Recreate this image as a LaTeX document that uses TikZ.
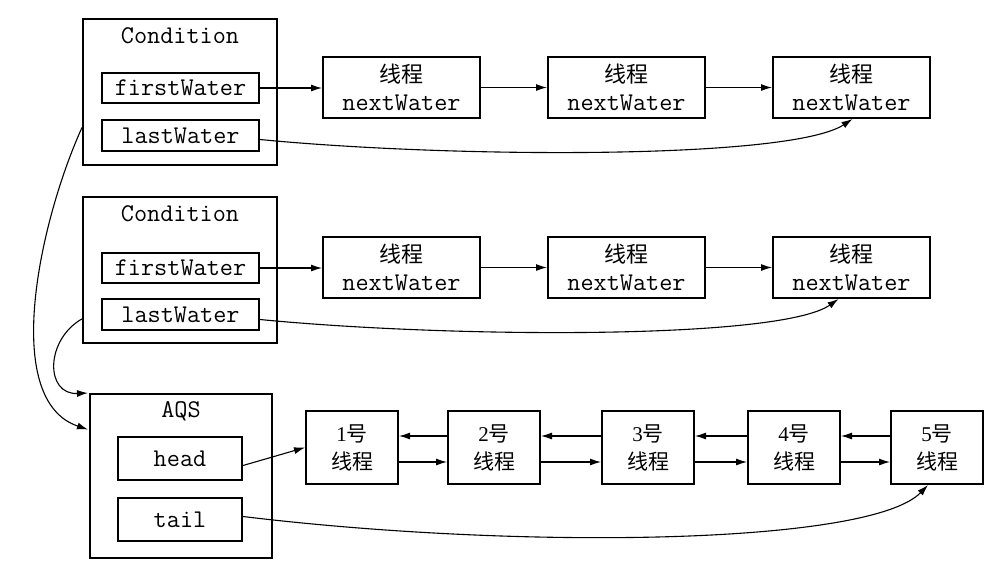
\documentclass[tikz,border=0pt]{standalone}
\usepackage{fontspec}
\setmainfont{Liberation Serif}
\newfontfamily\cjk{Noto Sans CJK SC}
\usetikzlibrary{arrows.meta,calc}
\tikzset{
 outerbox/.style={draw, line width=2pt, rectangle, inner sep=0pt},
 fieldbox/.style={draw, line width=2pt, rectangle, inner sep=0pt, font=\ttfamily\fontsize{25.5}{28}\selectfont},
 titletext/.style={inner sep=0pt, font=\ttfamily\fontsize{25.5}{28}\selectfont},
 wthread/.style={draw, line width=2pt, minimum width=157pt, minimum height=61pt, inner sep=0pt, align=center, font=\fontsize{22}{28}\selectfont},
 qthread/.style={draw, line width=2pt, minimum width=92pt, minimum height=73pt, inner sep=0pt, align=center, font=\fontsize{21}{28}\selectfont},
 conn/.style={line width=1.1pt, -{Latex[length=11pt,width=7pt]}},
}
\newcommand{\wt}{{\cjk 线程}\\{\ttfamily\fontsize{25.5}{28}\selectfont nextWater}}
\newcommand{\qt}[1]{{\rmfamily #1}{\cjk 号}\\{\cjk 线程}}
\begin{document}
\begin{tikzpicture}[x=1pt,y=-1pt]
\useasboundingbox (0,0) rectangle (1003,566);
% Condition 1
\node[outerbox, minimum width=194pt, minimum height=146pt] (c1) at (180,92) {};
\node[titletext] (c1t) at (180,36) {Condition};
\node[fieldbox, minimum width=157pt, minimum height=30pt] (fw1) at (180.5,88) {firstWater};
\node[fieldbox, minimum width=157pt, minimum height=31pt] (lw1) at (180.5,135.5) {lastWater};
\node[wthread] (a1) at (401.5,87.5) {\wt};
\node[wthread] (a2) at (626.5,87.5) {\wt};
\node[wthread] (a3) at (851.5,87.5) {\wt};
% Condition 2
\node[outerbox, minimum width=194pt, minimum height=146pt] (c2) at (180,270) {};
\node[titletext] (c2t) at (180,214) {Condition};
\node[fieldbox, minimum width=157pt, minimum height=30pt] (fw2) at (180.5,268) {firstWater};
\node[fieldbox, minimum width=157pt, minimum height=31pt] (lw2) at (180.5,314.5) {lastWater};
\node[wthread] (b1) at (401.5,267.5) {\wt};
\node[wthread] (b2) at (626.5,267.5) {\wt};
\node[wthread] (b3) at (851.5,267.5) {\wt};
% AQS
\node[outerbox, minimum width=182pt, minimum height=164pt] (aqs) at (181,476) {};
\node[titletext] (aqst) at (181,411) {AQS};
\node[fieldbox, minimum width=124pt, minimum height=43pt] (head) at (180,458.5) {head};
\node[fieldbox, minimum width=124pt, minimum height=43pt] (tail) at (180,519.5) {tail};
\node[qthread] (q1) at (352,447.5) {\qt{1}};
\node[qthread] (q2) at (494,447.5) {\qt{2}};
\node[qthread] (q3) at (648,447.5) {\qt{3}};
\node[qthread] (q4) at (794,447.5) {\qt{4}};
\node[qthread] (q5) at (937,447.5) {\qt{5}};
% top row arrows
\draw[conn] (fw1.east) -- (fw1.east -| a1.west);
\draw[conn] (a1.east) -- (a2.west);
\draw[conn] (a2.east) -- (a3.west);
\draw[conn] ([yshift=-4pt]lw1.east) .. controls (450,158) and (790,160) .. ([xshift=1pt]a3.south);
% middle row arrows
\draw[conn] (fw2.east) -- (fw2.east -| b1.west);
\draw[conn] (b1.east) -- (b2.west);
\draw[conn] (b2.east) -- (b3.west);
\draw[conn] ([yshift=-5pt]lw2.east) .. controls (450,338) and (780,340) .. ([xshift=-13pt]b3.south);
% bottom row arrows
\foreach \l/\r in {q1/q2,q2/q3,q3/q4,q4/q5}{
  \draw[conn] ([yshift=11.5pt]\r.west) -- ([yshift=11.5pt]\l.east);
  \draw[conn] ([yshift=-14.5pt]\l.east) -- ([yshift=-14.5pt]\r.west);
}
\draw[conn] ([yshift=-7pt]head.east) -- (q1.west);
\draw[conn] ([yshift=3pt]tail.east) .. controls (520,550) and (870,545) .. ([xshift=-9pt]q5.south);
% left curves into AQS
\coordinate (s1) at ($(c1.north west)!0.74!(c1.south west)$);
\coordinate (s2) at ($(c2.north west)!0.83!(c2.south west)$);
\coordinate (e1) at ($(aqs.north west)!0.22!(aqs.south west)+(-1,0)$);
\coordinate (e2) at ($(aqs.north west)+(-1,0)$);
\draw[conn] (s1) .. controls (40,220) and (0,400) .. (e1);
\draw[conn] (s2) .. controls (45,340) and (45,395) .. (e2);
\end{tikzpicture}
\end{document}
